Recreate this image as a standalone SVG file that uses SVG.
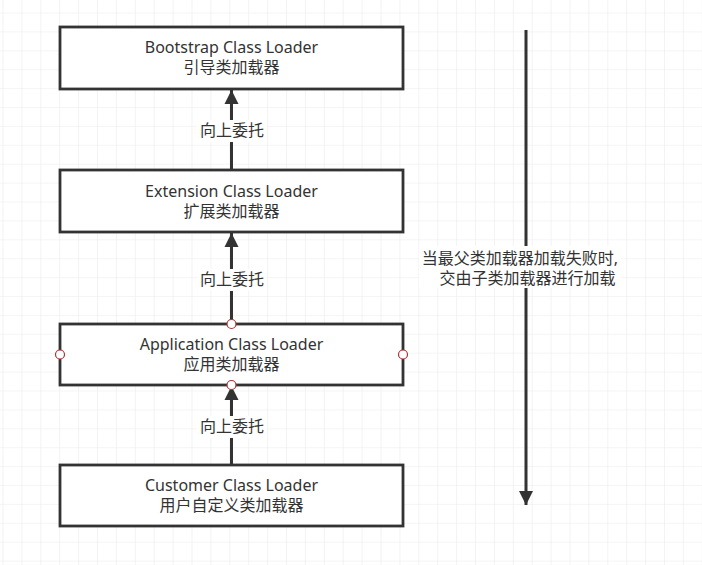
<svg xmlns="http://www.w3.org/2000/svg" width="702" height="565" viewBox="0 0 702 565">
<defs>
<pattern id="grid" x="2.5" y="12.5" width="18.9" height="18.9" patternUnits="userSpaceOnUse">
<path d="M0 0H18.9M0 0V18.9" fill="none" stroke="#ececec" stroke-width="1.2"/>
</pattern>
<marker id="ah" viewBox="0 0 14 20" refX="14" refY="10" markerWidth="14" markerHeight="20" markerUnits="userSpaceOnUse" orient="auto">
<path d="M0 3 L14 10 L0 17 Z" fill="#333"/>
</marker>
</defs>
<style>
.box{fill:#fff;stroke:#333;stroke-width:2.8}
.t{font-family:"Noto Sans","Noto Sans CJK SC",sans-serif;font-size:16px;fill:#333;text-anchor:middle}
.edge{fill:none;stroke:#333;stroke-width:3}
.lbl{fill:#fff}
.pt{fill:#fff;stroke:#a33;stroke-width:1.2}
</style>
<rect width="702" height="565" fill="#fff"/>
<rect width="702" height="565" fill="url(#grid)"/>
<g id="connectors">
<path class="edge" d="M231.5 170V90" marker-end="url(#ah)"/>
<path class="edge" d="M231.5 324V233" marker-end="url(#ah)"/>
<path class="edge" d="M231.5 465V386" marker-end="url(#ah)"/>
<path class="edge" d="M526 30V505" marker-end="url(#ah)"/>
<rect class="lbl" x="197" y="120" width="70" height="22"/>
<text class="t" x="232" y="136">向上委托</text>
<rect class="lbl" x="197" y="269" width="70" height="22"/>
<text class="t" x="232" y="285">向上委托</text>
<rect class="lbl" x="197" y="416" width="70" height="22"/>
<text class="t" x="232" y="432">向上委托</text>
<rect class="lbl" x="419" y="246" width="202" height="42"/>
<text class="t" x="520" y="264">当最父类加载器加载失败时,</text>
<text class="t" x="527.5" y="284">交由子类加载器进行加载</text>
</g>
<g id="bootstrap">
<rect class="box" x="60" y="27" width="343" height="62"/>
<text class="t" x="231.5" y="53">Bootstrap Class Loader</text>
<text class="t" x="231.5" y="73">引导类加载器</text>
</g>
<g id="extension">
<rect class="box" x="60" y="170" width="343" height="62"/>
<text class="t" x="231.5" y="197">Extension Class Loader</text>
<text class="t" x="231.5" y="217">扩展类加载器</text>
</g>
<g id="application">
<rect class="box" x="60" y="324" width="343" height="61"/>
<text class="t" x="231.5" y="350">Application Class Loader</text>
<text class="t" x="231.5" y="370">应用类加载器</text>
<circle class="pt" cx="231.5" cy="324" r="4.5"/>
<circle class="pt" cx="60" cy="354.5" r="4.5"/>
<circle class="pt" cx="403" cy="354.5" r="4.5"/>
<circle class="pt" cx="231.5" cy="385" r="4.5"/>
</g>
<g id="customer">
<rect class="box" x="60" y="465" width="343" height="61"/>
<text class="t" x="231.5" y="491">Customer Class Loader</text>
<text class="t" x="231.5" y="511">用户自定义类加载器</text>
</g>
</svg>
